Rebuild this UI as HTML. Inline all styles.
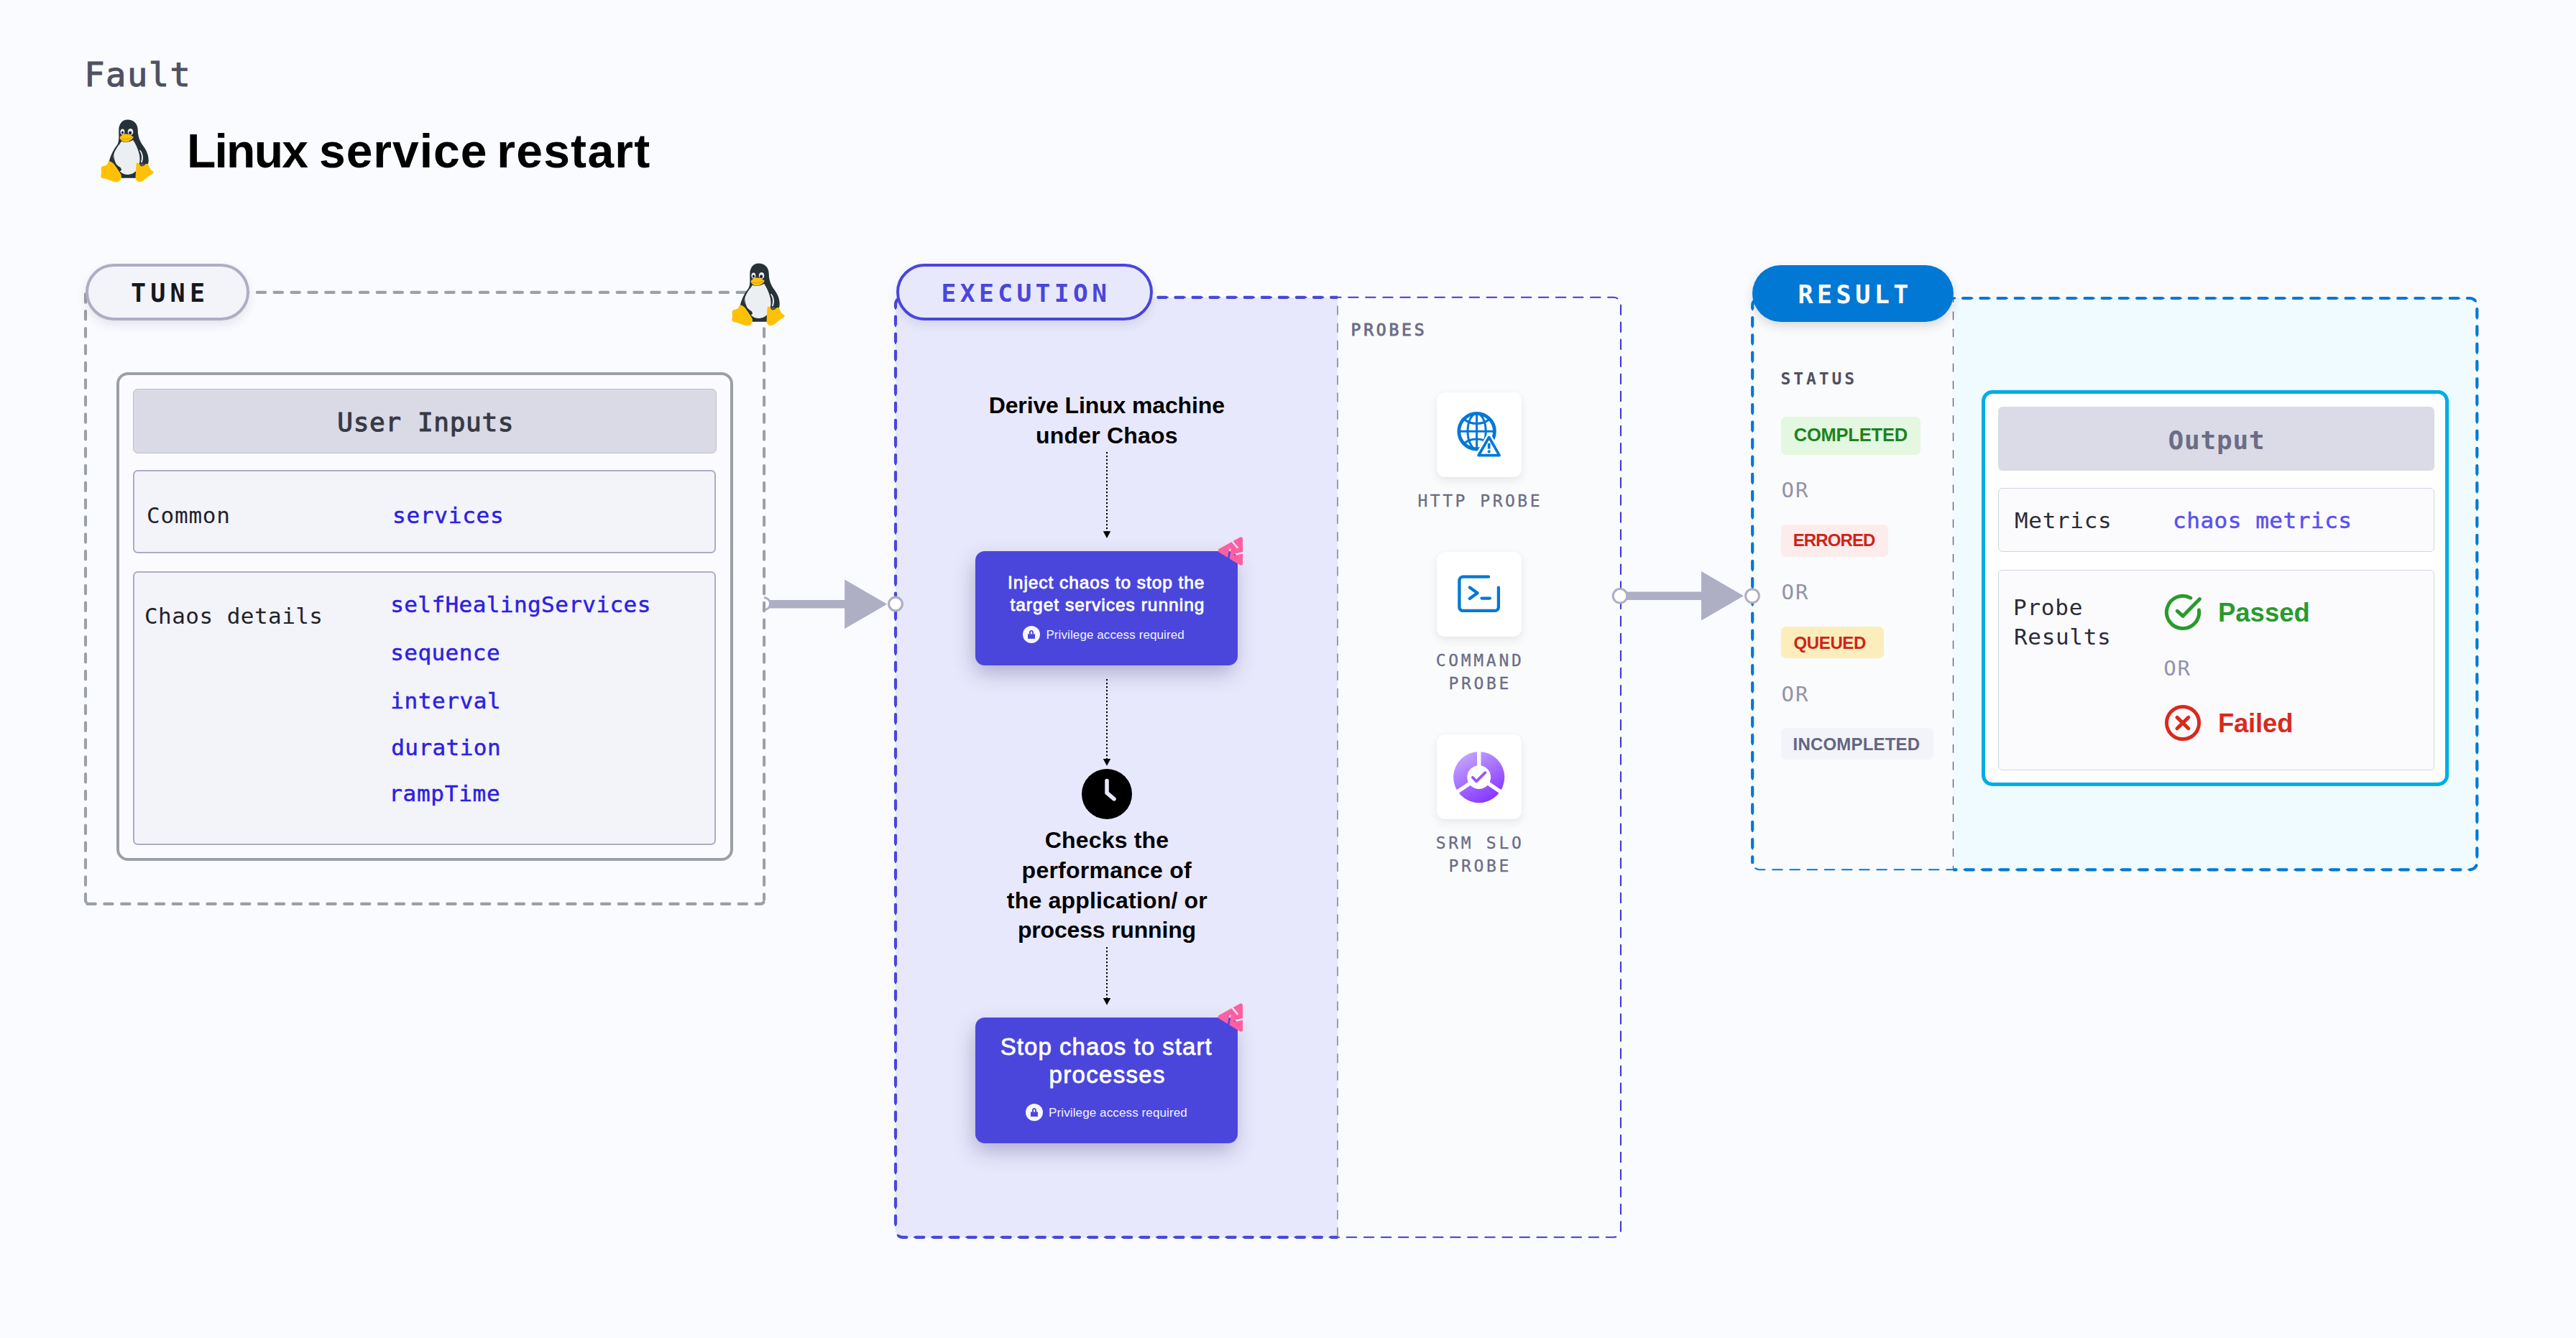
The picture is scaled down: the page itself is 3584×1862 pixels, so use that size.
<!DOCTYPE html>
<html lang="en"><head><meta charset="utf-8"><title>Linux service restart</title>
<style>
html,body{margin:0;padding:0}
body{width:3584px;height:1862px;background:#fafbff;position:relative;overflow:hidden;font-family:'Liberation Sans',sans-serif}
.a{position:absolute;box-sizing:border-box}
.t{position:absolute;white-space:nowrap;line-height:1}
svg{position:absolute;overflow:visible}
</style></head><body>
<div class="a" style="left:1246px;top:413.8px;width:615px;height:1308px;background:#e8e8fc;border-radius:10px 0 0 10px"></div>
<div class="a" style="left:2717.5px;top:415px;width:728.8px;height:795.3px;background:#effbff;border-radius:0 10px 10px 0"></div>
<div class="a" style="left:1861px;top:413.8px;width:394px;height:1308px;background:#fafbfc;border-radius:0 10px 10px 0"></div>
<div class="a" style="left:2438.2px;top:415px;width:279.3px;height:795.3px;background:#fafbfc;border-radius:10px 0 0 10px"></div>
<svg width="3584" height="1862" viewBox="0 0 3584 1862" style="left:0;top:0" fill="none" stroke-linecap="round">
<defs><clipPath id="cx"><rect x="1200" y="380" width="661" height="1400"/></clipPath><clipPath id="cr"><rect x="2717.5" y="380" width="800" height="900"/><rect x="2400" y="380" width="46" height="822"/></clipPath></defs>
<path d="M1063 831.8a8.5 8.5 0 0 1 0 17" fill="#fff" stroke="#aeaec4" stroke-width="3" stroke-linecap="butt"/>
<path d="M333.9 406.9H1046 M119 409.3V1252.9a5 5 0 0 0 5 5 M121.4 1257.9H1058.1a5 5 0 0 0 5-5 M1063.1 457.2V1252" stroke="#9b9fa8" stroke-width="4.1" stroke-dasharray="11.4 12.45"/>
<path d="M1256 413.8H2245a10 10 0 0 1 10 10V1711.8a10 10 0 0 1 -10 10H1256a10 10 0 0 1 -10 -10" stroke="#4038d8" stroke-width="2.1" stroke-dasharray="13.4 10.67" stroke-dashoffset="5.7"/>
<path d="M1256 413.8H2245a10 10 0 0 1 10 10V1711.8a10 10 0 0 1 -10 10H1256a10 10 0 0 1 -10 -10" stroke="#4a46da" stroke-width="4.2" stroke-dasharray="11 13.07" stroke-dashoffset="5.7" clip-path="url(#cx)"/>
<path d="M1256 413.8a10 10 0 0 0 -10 10V1711.8" stroke="#4038d8" stroke-width="2.1" stroke-dasharray="13.4 10.67" stroke-dashoffset="15.84"/>
<path d="M1256 413.8a10 10 0 0 0 -10 10V1711.8" stroke="#4a46da" stroke-width="4.2" stroke-dasharray="11 13.07" stroke-dashoffset="15.84" clip-path="url(#cx)"/>
<path d="M1861 414V1720" stroke="#9c9db0" stroke-width="2" stroke-dasharray="13 11.2" stroke-dashoffset="12.6" stroke-linecap="butt"/>
<path d="M2448.2 415H3436.3a10 10 0 0 1 10 10V1200.3a10 10 0 0 1 -10 10H2448.2a10 10 0 0 1 -10 -10" stroke="#0278d5" stroke-width="2.1" stroke-dasharray="13.4 10.8" stroke-dashoffset="7.5"/>
<path d="M2448.2 415H3436.3a10 10 0 0 1 10 10V1200.3a10 10 0 0 1 -10 10H2448.2a10 10 0 0 1 -10 -10" stroke="#0278d5" stroke-width="4.2" stroke-dasharray="11.2 13" stroke-dashoffset="7.5" clip-path="url(#cr)"/>
<path d="M2448.2 415a10 10 0 0 0 -10 10V1200.3" stroke="#0278d5" stroke-width="2.1" stroke-dasharray="13.4 10.8" stroke-dashoffset="15.7"/>
<path d="M2448.2 415a10 10 0 0 0 -10 10V1200.3" stroke="#0278d5" stroke-width="4.2" stroke-dasharray="11.2 13" stroke-dashoffset="15.7" clip-path="url(#cr)"/>
<path d="M2717.5 415V1210" stroke="#66677a" stroke-width="1.4" stroke-dasharray="11.7 12.4" stroke-dashoffset="5.6" stroke-linecap="butt"/>
<path d="M1070 840.8H1177.1" stroke="#aeaec4" stroke-width="11.6" stroke-linecap="butt"/><path d="M1175.1 806.5999999999999L1234.3 840.8L1175.1 875.0Z" fill="#aeaec4"/>
<circle cx="1246" cy="840.5" r="9.4" fill="#fff" stroke="#aeaec4" stroke-width="3.2"/>
<path d="M2254 829.3H2369" stroke="#aeaec4" stroke-width="11.6" stroke-linecap="butt"/><path d="M2367 795.0999999999999L2426 829.3L2367 863.5Z" fill="#aeaec4"/>
<circle cx="2254" cy="829.3" r="9.8" fill="#fff" stroke="#aeaec4" stroke-width="3"/>
<circle cx="2438" cy="829.3" r="9.4" fill="#fff" stroke="#aeaec4" stroke-width="3"/>
<path d="M1540 629V740" stroke="#000" stroke-width="2" stroke-dasharray="2.3 2.7" stroke-linecap="butt"/><path d="M1534.8 739.3H1545.2L1540 749Z" fill="#000"/>
<path d="M1540 945V1056.8" stroke="#000" stroke-width="2" stroke-dasharray="2.3 2.7" stroke-linecap="butt"/><path d="M1534.8 1056.1H1545.2L1540 1065.8Z" fill="#000"/>
<path d="M1540 1318V1389.7" stroke="#000" stroke-width="2" stroke-dasharray="2.3 2.7" stroke-linecap="butt"/><path d="M1534.8 1389.0H1545.2L1540 1398.7Z" fill="#000"/>
</svg>
<header>
<div class="t" style="left:117.3px;top:80.2px;font-family:'DejaVu Sans Mono','Liberation Mono',monospace;font-size:47px;font-weight:400;color:#4f5162;letter-spacing:1.5px;-webkit-text-stroke:1.1px #4f5162;">Fault</div>
<h1 style="margin:0;font-size:0">
<div class="t" style="left:259.9px;top:177.3px;font-family:'Liberation Sans',sans-serif;font-size:66px;font-weight:700;color:#000;letter-spacing:-1.72px;">Linux</div>
<span style="font-size:0"> </span>
<div class="t" style="left:444.0px;top:177.3px;font-family:'Liberation Sans',sans-serif;font-size:66px;font-weight:700;color:#000;letter-spacing:0.97px;">service</div>
<span style="font-size:0"> </span>
<div class="t" style="left:691.2px;top:177.3px;font-family:'Liberation Sans',sans-serif;font-size:66px;font-weight:700;color:#000;letter-spacing:1.28px;">restart</div>
<span style="font-size:0"> </span>
</h1>
<svg width="120" height="120" viewBox="0 0 1338 1338" style="left:120px;top:150px">
<path d="M640 185C735 185 800 250 800 345C800 440 830 520 885 595C945 675 975 760 965 850L940 905L770 1090H545L352 850C372 740 430 640 482 572C512 525 505 450 505 350C505 250 560 185 640 185Z" fill="#263238"/>
<path d="M545 520C600 545 680 535 725 500C765 560 805 640 822 720C840 800 830 880 792 950C760 1010 700 1037 630 1037C585 1037 545 1015 522 985L548 962L530 925C480 895 420 850 415 780C420 700 470 620 520 560Z" fill="#eceff1"/>
<path d="M430 690C420 760 440 830 470 880C500 915 540 930 545 965L520 985C470 940 415 870 415 780Z" fill="#263238"/>
<path d="M838 655C880 700 895 780 865 850L845 845C870 780 860 710 825 665Z" fill="#eceff1"/>
<path d="M835 870C860 855 895 860 905 880C900 905 870 915 845 910Z" fill="#455a64"/>
<ellipse cx="562" cy="374" rx="33" ry="46" fill="#eceff1"/><ellipse cx="686" cy="374" rx="42" ry="50" fill="#eceff1"/>
<ellipse cx="563" cy="384" rx="17" ry="23" fill="#212121"/><ellipse cx="681" cy="388" rx="23" ry="26" fill="#212121"/>
<path d="M518 462C540 430 580 405 610 405C650 405 700 430 732 452C725 490 660 530 605 532C565 530 525 495 518 462Z" fill="#ffc107"/>
<path d="M545 478C590 500 660 490 712 455" stroke="#c8930a" stroke-width="9" fill="none"/>
<path d="M350 830C380 830 420 850 450 900C490 960 530 1010 545 1050C548 1100 520 1150 470 1153C420 1150 340 1110 270 1095C225 1085 218 1060 232 1030C240 1000 225 960 232 925C250 895 310 905 330 870C338 850 340 835 350 830Z" fill="#ffc107"/>
<path d="M790 852C810 850 830 870 838 900C860 920 900 905 915 875C930 865 960 870 968 890C975 940 1010 970 1048 995C1040 1030 990 1045 950 1075C910 1110 870 1150 820 1148C780 1140 765 1110 765 1070C770 1000 770 930 775 880C778 865 780 855 790 852Z" fill="#ffc107"/>
</svg>
</header>
<div id="stages">
<svg width="120" height="120" viewBox="0 0 1338 1338" style="left:998.3px;top:350.4px">
<path d="M640 185C735 185 800 250 800 345C800 440 830 520 885 595C945 675 975 760 965 850L940 905L770 1090H545L352 850C372 740 430 640 482 572C512 525 505 450 505 350C505 250 560 185 640 185Z" fill="#263238"/>
<path d="M545 520C600 545 680 535 725 500C765 560 805 640 822 720C840 800 830 880 792 950C760 1010 700 1037 630 1037C585 1037 545 1015 522 985L548 962L530 925C480 895 420 850 415 780C420 700 470 620 520 560Z" fill="#eceff1"/>
<path d="M430 690C420 760 440 830 470 880C500 915 540 930 545 965L520 985C470 940 415 870 415 780Z" fill="#263238"/>
<path d="M838 655C880 700 895 780 865 850L845 845C870 780 860 710 825 665Z" fill="#eceff1"/>
<path d="M835 870C860 855 895 860 905 880C900 905 870 915 845 910Z" fill="#455a64"/>
<ellipse cx="562" cy="374" rx="33" ry="46" fill="#eceff1"/><ellipse cx="686" cy="374" rx="42" ry="50" fill="#eceff1"/>
<ellipse cx="563" cy="384" rx="17" ry="23" fill="#212121"/><ellipse cx="681" cy="388" rx="23" ry="26" fill="#212121"/>
<path d="M518 462C540 430 580 405 610 405C650 405 700 430 732 452C725 490 660 530 605 532C565 530 525 495 518 462Z" fill="#ffc107"/>
<path d="M545 478C590 500 660 490 712 455" stroke="#c8930a" stroke-width="9" fill="none"/>
<path d="M350 830C380 830 420 850 450 900C490 960 530 1010 545 1050C548 1100 520 1150 470 1153C420 1150 340 1110 270 1095C225 1085 218 1060 232 1030C240 1000 225 960 232 925C250 895 310 905 330 870C338 850 340 835 350 830Z" fill="#ffc107"/>
<path d="M790 852C810 850 830 870 838 900C860 920 900 905 915 875C930 865 960 870 968 890C975 940 1010 970 1048 995C1040 1030 990 1045 950 1075C910 1110 870 1150 820 1148C780 1140 765 1110 765 1070C770 1000 770 930 775 880C778 865 780 855 790 852Z" fill="#ffc107"/>
</svg>
<div class="a" style="left:119.4px;top:367.1px;width:227.4px;height:78.7px;border:4px solid #aeadc4;border-radius:40px;background:#f3f3fa;box-shadow:0 6px 14px rgba(40,41,61,.10)"></div>
<div class="t" style="left:181.9px;top:390.6px;font-family:'DejaVu Sans Mono','Liberation Mono',monospace;font-size:35px;font-weight:700;color:#16181d;letter-spacing:6.27px;">TUNE</div>
<div class="a" style="left:1246.5px;top:367.1px;width:357.5px;height:79px;border:4px solid #4a46da;border-radius:40px;background:#e8e8fc;box-shadow:0 6px 14px rgba(40,41,61,.10)"></div>
<div class="t" style="left:1309.6px;top:391.0px;font-family:'DejaVu Sans Mono','Liberation Mono',monospace;font-size:34.5px;font-weight:700;color:#4a46da;letter-spacing:5.43px;">EXECUTION</div>
<div class="a" style="left:2438px;top:369px;width:280px;height:79px;border-radius:40px;background:#0278d5;box-shadow:0 6px 14px rgba(40,41,61,.16)"></div>
<div class="t" style="left:2501.6px;top:393.1px;font-family:'DejaVu Sans Mono','Liberation Mono',monospace;font-size:35px;font-weight:700;color:#fff;letter-spacing:5.44px;">RESULT</div>
</div>
<section id="tune" aria-label="Tune">
<div class="a" style="left:162.2px;top:517.9px;width:857.9px;height:680.4px;border:4.6px solid #9b9fa8;border-radius:16px;background:#fbfbff"></div>
<div class="a" style="left:184.8px;top:540.7px;width:812.2px;height:90.1px;border:1.2px solid #bcbbd0;border-radius:6.5px;background:#d9dae6"></div>
<div class="t" style="left:469.3px;top:569.5px;font-family:'DejaVu Sans Mono','Liberation Mono',monospace;font-size:36px;font-weight:400;color:#383946;letter-spacing:0.67px;-webkit-text-stroke:1.1px #383946;">User Inputs</div>
<div class="a" style="left:184.7px;top:653.7px;width:811.6px;height:116.6px;border:2px solid #adacc5;border-radius:6.5px;background:#f3f3fa"></div>
<div class="a" style="left:184.7px;top:794.7px;width:811.6px;height:381.1px;border:2px solid #adacc5;border-radius:6.5px;background:#f3f3fa"></div>
<div class="t" style="left:204.0px;top:702.4px;font-family:'DejaVu Sans Mono','Liberation Mono',monospace;font-size:31px;font-weight:400;color:#22222a;letter-spacing:0.8px;">Common</div>
<div class="t" style="left:546.0px;top:702.4px;font-family:'DejaVu Sans Mono','Liberation Mono',monospace;font-size:31px;font-weight:400;color:#2d21e0;letter-spacing:0.77px;-webkit-text-stroke:.5px #2d21e0;">services</div>
<div class="t" style="left:201.0px;top:842.1px;font-family:'DejaVu Sans Mono','Liberation Mono',monospace;font-size:31px;font-weight:400;color:#22222a;letter-spacing:0.45px;">Chaos details</div>
<div class="t" style="left:543.2px;top:826.2px;font-family:'DejaVu Sans Mono','Liberation Mono',monospace;font-size:31px;font-weight:400;color:#2d21e0;letter-spacing:0.42px;-webkit-text-stroke:.5px #2d21e0;">selfHealingServices</div>
<div class="t" style="left:543.2px;top:893.4px;font-family:'DejaVu Sans Mono','Liberation Mono',monospace;font-size:31px;font-weight:400;color:#2d21e0;letter-spacing:0.44px;-webkit-text-stroke:.5px #2d21e0;">sequence</div>
<div class="t" style="left:543.2px;top:960.0px;font-family:'DejaVu Sans Mono','Liberation Mono',monospace;font-size:31px;font-weight:400;color:#2d21e0;letter-spacing:0.59px;-webkit-text-stroke:.5px #2d21e0;">interval</div>
<div class="t" style="left:544.2px;top:1024.6px;font-family:'DejaVu Sans Mono','Liberation Mono',monospace;font-size:31px;font-weight:400;color:#2d21e0;letter-spacing:0.44px;-webkit-text-stroke:.5px #2d21e0;">duration</div>
<div class="t" style="left:541.2px;top:1089.0px;font-family:'DejaVu Sans Mono','Liberation Mono',monospace;font-size:31px;font-weight:400;color:#2d21e0;letter-spacing:0.73px;-webkit-text-stroke:.5px #2d21e0;">rampTime</div>
</section>
<section id="execution" aria-label="Execution">
<div class="t" style="left:1375.7px;top:548.0px;font-family:'Liberation Sans',sans-serif;font-size:32px;font-weight:700;color:#000;letter-spacing:-0.13px;">Derive Linux machine</div>
<div class="t" style="left:1440.9px;top:589.8px;font-family:'Liberation Sans',sans-serif;font-size:32px;font-weight:700;color:#000;letter-spacing:0.21px;">under Chaos</div>
<div class="a" style="left:1357px;top:767px;width:365px;height:159px;border-radius:13px;background:#4a46dc;box-shadow:-3px 12px 30px -2px rgba(40,40,110,.32)"></div>
<div class="t" style="left:1402.1px;top:798.6px;font-family:'Liberation Sans',sans-serif;font-size:24.5px;font-weight:400;color:#fff;letter-spacing:0.93px;-webkit-text-stroke:.85px #fff;">Inject chaos to stop the</div>
<div class="t" style="left:1405.4px;top:830.0px;font-family:'Liberation Sans',sans-serif;font-size:24.5px;font-weight:400;color:#fff;letter-spacing:1.01px;-webkit-text-stroke:.85px #fff;">target services running</div>
<svg width="26" height="26" viewBox="-13 -13 26 26" style="left:1422px;top:870px">
<circle r="12" fill="#f8f7ff"/><rect x="-5" y="-0.7" width="10" height="6.6" fill="#4a46dc"/>
<path d="M-2 -0.5V-3.1a2 2 0 0 1 4 0V-0.5" fill="none" stroke="#4a46dc" stroke-width="1.9"/></svg>
<div class="t" style="left:1455.4px;top:874.5px;font-family:'Liberation Sans',sans-serif;font-size:17px;font-weight:400;color:#f3f2ff;letter-spacing:0.1px;">Privilege access required</div>
<div class="a" style="left:1357px;top:1415.7px;width:365px;height:175.3px;border-radius:13px;background:#4a46dc;box-shadow:-3px 12px 30px -2px rgba(40,40,110,.32)"></div>
<div class="t" style="left:1391.8px;top:1440.2px;font-family:'Liberation Sans',sans-serif;font-size:33px;font-weight:400;color:#fff;letter-spacing:1.04px;-webkit-text-stroke:.8px #fff;">Stop chaos to start</div>
<div class="t" style="left:1459.6px;top:1479.4px;font-family:'Liberation Sans',sans-serif;font-size:33px;font-weight:400;color:#fff;letter-spacing:1.31px;-webkit-text-stroke:.8px #fff;">processes</div>
<svg width="26" height="26" viewBox="-13 -13 26 26" style="left:1425.6px;top:1534.7px">
<circle r="12" fill="#f8f7ff"/><rect x="-5" y="-0.7" width="10" height="6.6" fill="#4a46dc"/>
<path d="M-2 -0.5V-3.1a2 2 0 0 1 4 0V-0.5" fill="none" stroke="#4a46dc" stroke-width="1.9"/></svg>
<div class="t" style="left:1459.0px;top:1540.1px;font-family:'Liberation Sans',sans-serif;font-size:17px;font-weight:400;color:#f3f2ff;letter-spacing:0.12px;">Privilege access required</div>
<svg width="80" height="80" viewBox="0 0 80 80" style="left:1670px;top:730px">
<mask id="m730"><rect width="80" height="80" fill="#fff"/>
<path d="M44.2 23.2L52.2 32.8" stroke="#000" stroke-width="2.5"/>
<path d="M41.3 34.6L39 48.5" stroke="#000" stroke-width="2.5" stroke-linecap="round"/>
<path d="M60 39L48.3 41.8" stroke="#000" stroke-width="2.5" stroke-linecap="round"/></mask>
<path d="M27.4 36.2L56.4 20V54Z" fill="#ff5fa0" stroke="#ff5fa0" stroke-width="5.4" stroke-linejoin="round" mask="url(#m730)"/></svg>
<svg width="80" height="80" viewBox="0 0 80 80" style="left:1670px;top:1379px">
<mask id="m1379"><rect width="80" height="80" fill="#fff"/>
<path d="M44.2 23.2L52.2 32.8" stroke="#000" stroke-width="2.5"/>
<path d="M41.3 34.6L39 48.5" stroke="#000" stroke-width="2.5" stroke-linecap="round"/>
<path d="M60 39L48.3 41.8" stroke="#000" stroke-width="2.5" stroke-linecap="round"/></mask>
<path d="M27.4 36.2L56.4 20V54Z" fill="#ff5fa0" stroke="#ff5fa0" stroke-width="5.4" stroke-linejoin="round" mask="url(#m1379)"/></svg>
<svg width="72" height="72" viewBox="-36 -36 72 72" style="left:1504px;top:1069px"><circle r="35" fill="#000"/>
<path d="M0 -18.4V-1.6L10 6.9" fill="none" stroke="#e8e8fc" stroke-width="5.6" stroke-linecap="round" stroke-linejoin="round"/></svg>
<div class="t" style="left:1453.8px;top:1152.8px;font-family:'Liberation Sans',sans-serif;font-size:32px;font-weight:700;color:#000;letter-spacing:0.16px;">Checks the</div>
<div class="t" style="left:1421.6px;top:1195.0px;font-family:'Liberation Sans',sans-serif;font-size:32px;font-weight:700;color:#000;letter-spacing:0.24px;">performance of</div>
<div class="t" style="left:1400.8px;top:1236.6px;font-family:'Liberation Sans',sans-serif;font-size:32px;font-weight:700;color:#000;letter-spacing:0.19px;">the application/ or</div>
<div class="t" style="left:1416.0px;top:1278.4px;font-family:'Liberation Sans',sans-serif;font-size:32px;font-weight:700;color:#000;letter-spacing:-0.19px;">process running</div>
<div class="t" style="left:1879.6px;top:447.9px;font-family:'DejaVu Sans Mono','Liberation Mono',monospace;font-size:23px;font-weight:400;color:#6b6d85;letter-spacing:3.76px;-webkit-text-stroke:.9px #6b6d85;">PROBES</div>
<div class="a" style="left:1998.8px;top:545.8px;width:118px;height:118px;border-radius:11px;background:#fff;box-shadow:0 5px 12px rgba(40,41,61,.09),0 0 2px rgba(40,41,61,.05)"></div>
<div class="a" style="left:1998.8px;top:768px;width:118px;height:118px;border-radius:11px;background:#fff;box-shadow:0 5px 12px rgba(40,41,61,.09),0 0 2px rgba(40,41,61,.05)"></div>
<div class="a" style="left:1998.8px;top:1022px;width:118px;height:118px;border-radius:11px;background:#fff;box-shadow:0 5px 12px rgba(40,41,61,.09),0 0 2px rgba(40,41,61,.05)"></div>
<div class="t" style="left:1972.5px;top:685.9px;font-family:'DejaVu Sans Mono','Liberation Mono',monospace;font-size:23px;font-weight:400;color:#6b6d85;letter-spacing:3.51px;-webkit-text-stroke:.3px #6b6d85;">HTTP PROBE</div>
<div class="t" style="left:1997.8px;top:908.1px;font-family:'DejaVu Sans Mono','Liberation Mono',monospace;font-size:23px;font-weight:400;color:#6b6d85;letter-spacing:3.67px;-webkit-text-stroke:.3px #6b6d85;">COMMAND</div>
<div class="t" style="left:2015.6px;top:939.5px;font-family:'DejaVu Sans Mono','Liberation Mono',monospace;font-size:23px;font-weight:400;color:#6b6d85;letter-spacing:3.6px;-webkit-text-stroke:.3px #6b6d85;">PROBE</div>
<div class="t" style="left:1997.8px;top:1162.1px;font-family:'DejaVu Sans Mono','Liberation Mono',monospace;font-size:23px;font-weight:400;color:#6b6d85;letter-spacing:3.67px;-webkit-text-stroke:.3px #6b6d85;">SRM SLO</div>
<div class="t" style="left:2015.6px;top:1193.5px;font-family:'DejaVu Sans Mono','Liberation Mono',monospace;font-size:23px;font-weight:400;color:#6b6d85;letter-spacing:3.6px;-webkit-text-stroke:.3px #6b6d85;">PROBE</div>
<svg width="118" height="118" viewBox="0 0 118 118" style="left:1998.8px;top:545.8px" fill="none" stroke="#0278d5">
<mask id="mg"><rect width="118" height="118" fill="#fff"/><path d="M72.7 62.5L87.1 87.7H58.1Z" fill="#000" stroke="#000" stroke-width="8.6" stroke-linejoin="round"/></mask>
<g mask="url(#mg)"><circle cx="55.6" cy="54.2" r="24.8" stroke-width="4.8"/>
<ellipse cx="55.6" cy="54.2" rx="12.6" ry="24.8" stroke-width="3"/>
<path d="M55.6 29V79.4M30.5 54.2H80.7" stroke-width="3"/>
<path d="M38 37.5C48 45.5 63 45.5 73.2 37.5M38 71C48 63 63 63 73.2 71" stroke-width="3"/></g>
<path d="M72.7 62.5L87.1 87.7H58.1Z" stroke-width="3.7" stroke-linejoin="round"/>
<path d="M72.7 70.9V78.6" stroke-width="3.7"/><circle cx="72.7" cy="82.4" r="2.1" fill="#0278d5" stroke="none"/></svg>
<svg width="118" height="118" viewBox="0 0 118 118" style="left:1998.8px;top:768px" fill="none" stroke="#0278d5" stroke-width="4.3" stroke-linecap="round" stroke-linejoin="round">
<path d="M72.1 34.7H36.4a5 5 0 0 0-5 5V76.9a5 5 0 0 0 5 5H80.9a5 5 0 0 0 5-5V49.6"/>
<path d="M45.8 49.6L56.6 57.2L45.8 64.9M62.5 64.6H73.9"/></svg>
<svg width="118" height="118" viewBox="0 0 118 118" style="left:1998.8px;top:1022px">
<defs><linearGradient id="slo" x1="0.2" y1="0.05" x2="0.75" y2="1"><stop offset="0" stop-color="#c3a4ff"/><stop offset="1" stop-color="#8331ff"/></linearGradient></defs>
<circle cx="58.7" cy="59.6" r="35.6" fill="url(#slo)"/>
<path d="M58.7 59.6V20M58.7 59.6L25.5 82M58.7 59.6L91.9 82" stroke="#fff" stroke-width="5.4"/>
<circle cx="58.7" cy="59.6" r="16.4" fill="#fff"/>
<path d="M49.8 59.8L55.1 65.4L67.4 53.2" fill="none" stroke="#9a55ff" stroke-width="3.8" stroke-linecap="round" stroke-linejoin="round"/></svg>
</section>
<section id="result" aria-label="Result">
<div class="t" style="left:2477.5px;top:515.7px;font-family:'DejaVu Sans Mono','Liberation Mono',monospace;font-size:23px;font-weight:700;color:#4f5162;letter-spacing:3.9px;">STATUS</div>
<div class="a" style="left:2478px;top:580px;width:193.7px;height:53px;border-radius:7px;background:#e4f7e1"></div>
<div class="t" style="left:2495.7px;top:593.3px;font-family:'Liberation Sans',sans-serif;font-size:25.5px;font-weight:700;color:#1b841d;letter-spacing:-0.21px;">COMPLETED</div>
<div class="a" style="left:2478px;top:730px;width:149px;height:45px;border-radius:7px;background:#fcedec"></div>
<div class="t" style="left:2494.7px;top:739.6px;font-family:'Liberation Sans',sans-serif;font-size:24px;font-weight:700;color:#cf2318;letter-spacing:-0.88px;">ERRORED</div>
<div class="a" style="left:2478px;top:872px;width:143px;height:43.5px;border-radius:7px;background:#fcedbc"></div>
<div class="t" style="left:2495.6px;top:882.6px;font-family:'Liberation Sans',sans-serif;font-size:24px;font-weight:700;color:#cf2318;letter-spacing:-0.4px;">QUEUED</div>
<div class="a" style="left:2478px;top:1013px;width:212px;height:44px;border-radius:7px;background:#f3f3fa"></div>
<div class="t" style="left:2494.6px;top:1023.6px;font-family:'Liberation Sans',sans-serif;font-size:24px;font-weight:700;color:#63667f;letter-spacing:0.18px;">INCOMPLETED</div>
<div class="t" style="left:2478.6px;top:668.0px;font-family:'DejaVu Sans Mono','Liberation Mono',monospace;font-size:29px;font-weight:400;color:#9293ab;letter-spacing:2.0px;">OR</div>
<div class="t" style="left:2478.6px;top:810.3px;font-family:'DejaVu Sans Mono','Liberation Mono',monospace;font-size:29px;font-weight:400;color:#9293ab;letter-spacing:2.0px;">OR</div>
<div class="t" style="left:2478.6px;top:951.6px;font-family:'DejaVu Sans Mono','Liberation Mono',monospace;font-size:29px;font-weight:400;color:#9293ab;letter-spacing:2.0px;">OR</div>
<div class="a" style="left:2757px;top:542.6px;width:650.4px;height:551.1px;border:5px solid #00ade4;border-radius:15px;background:#fff"></div>
<div class="a" style="left:2779.6px;top:565.8px;width:607px;height:89.7px;border-radius:6px;background:#dadbe6"></div>
<div class="t" style="left:3016.6px;top:594.5px;font-family:'DejaVu Sans Mono','Liberation Mono',monospace;font-size:36px;font-weight:700;color:#6b6d85;letter-spacing:0.82px;">Output</div>
<div class="a" style="left:2779.6px;top:678.5px;width:607px;height:89.5px;border:1.8px solid #d3d3e2;border-radius:6px;background:#fbfbfe"></div>
<div class="a" style="left:2779.6px;top:792.9px;width:607px;height:279.3px;border:1.8px solid #d3d3e2;border-radius:6px;background:#fbfbfe"></div>
<div class="t" style="left:2803.0px;top:709.0px;font-family:'DejaVu Sans Mono','Liberation Mono',monospace;font-size:31px;font-weight:400;color:#2b2c38;letter-spacing:0.67px;">Metrics</div>
<div class="t" style="left:3023.0px;top:709.0px;font-family:'DejaVu Sans Mono','Liberation Mono',monospace;font-size:31px;font-weight:400;color:#5a4ff3;letter-spacing:0.53px;-webkit-text-stroke:.5px #5a4ff3;">chaos metrics</div>
<div class="t" style="left:2801.0px;top:830.4px;font-family:'DejaVu Sans Mono','Liberation Mono',monospace;font-size:31px;font-weight:400;color:#2b2c38;letter-spacing:0.75px;">Probe</div>
<div class="t" style="left:2802.0px;top:871.0px;font-family:'DejaVu Sans Mono','Liberation Mono',monospace;font-size:31px;font-weight:400;color:#2b2c38;letter-spacing:0.67px;">Results</div>
<svg width="56" height="56" viewBox="-28 -28 56 56" style="left:3008.8px;top:823.6px" fill="none" stroke="#299b2c" stroke-width="5" stroke-linecap="round" stroke-linejoin="round">
<path d="M10.8 -19.9A22.6 22.6 0 1 0 22.4 -3"/><path d="M-7.7 -1.7L0 5.4L23.3 -18.3"/></svg>
<div class="t" style="left:3085.9px;top:834.7px;font-family:'Liberation Sans',sans-serif;font-size:36.4px;font-weight:700;color:#299b2c;letter-spacing:0.08px;">Passed</div>
<div class="t" style="left:3010.2px;top:915.6px;font-family:'DejaVu Sans Mono','Liberation Mono',monospace;font-size:29px;font-weight:400;color:#9293ab;letter-spacing:1.8px;">OR</div>
<svg width="56" height="56" viewBox="-28 -28 56 56" style="left:3008.8px;top:977.9px" fill="none" stroke="#da291d" stroke-width="5" stroke-linecap="round">
<circle r="22.6"/><path d="M-8 -7.6L7.8 7.7M7.8 -7.6L-8 7.7"/></svg>
<div class="t" style="left:3085.9px;top:988.9px;font-family:'Liberation Sans',sans-serif;font-size:36.4px;font-weight:700;color:#da291d;letter-spacing:-0.12px;">Failed</div>
</section>
</body></html>
